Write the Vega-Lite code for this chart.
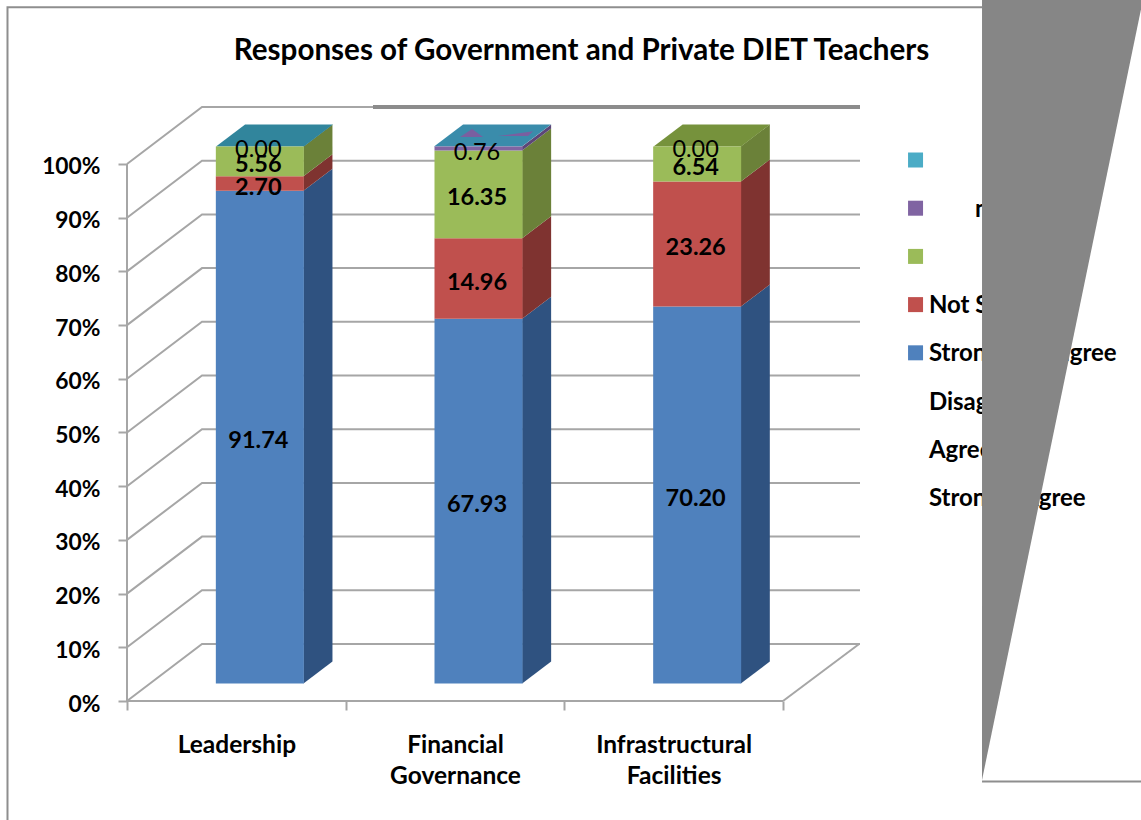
{
  "$schema": "https://vega.github.io/schema/vega-lite/v6.json",
  "width": 733,
  "height": 594,
  "autosize": "none",
  "padding": {"left": 127, "top": 107, "right": 281, "bottom": 119},
  "background": "white",
  "config": {"view": {"stroke": null}, "font": "Lato"},
  "title": {"text": "Responses of Government and Private DIET Teachers", "font": "Lato", "fontSize": 29.6, "fontWeight": "bold", "color": "black", "anchor": "middle", "dx": 88, "offset": 0, "dy": 67},
  "datasets": {
    "responses": [
      {"category": "Leadership", "slot": 0, "response": "Strongly Disagree", "rank": 1, "value": 91.74},
      {"category": "Leadership", "slot": 0, "response": "Not Sure", "rank": 2, "value": 2.70},
      {"category": "Leadership", "slot": 0, "response": "Undecided", "rank": 3, "value": 5.56},
      {"category": "Leadership", "slot": 0, "response": "None", "rank": 4, "value": 0.00},
      {"category": "Financial Governance", "slot": 1, "response": "Strongly Disagree", "rank": 1, "value": 67.93},
      {"category": "Financial Governance", "slot": 1, "response": "Not Sure", "rank": 2, "value": 14.96},
      {"category": "Financial Governance", "slot": 1, "response": "Undecided", "rank": 3, "value": 16.35},
      {"category": "Financial Governance", "slot": 1, "response": "None", "rank": 4, "value": 0.76},
      {"category": "Infrastructural Facilities", "slot": 2, "response": "Strongly Disagree", "rank": 1, "value": 70.20},
      {"category": "Infrastructural Facilities", "slot": 2, "response": "Not Sure", "rank": 2, "value": 23.26},
      {"category": "Infrastructural Facilities", "slot": 2, "response": "Undecided", "rank": 3, "value": 6.54},
      {"category": "Infrastructural Facilities", "slot": 2, "response": "None", "rank": 4, "value": 0.00}
    ],
    "key": [
      {"entry": "Other", "row": 0},
      {"entry": "None", "row": 1},
      {"entry": "Undecided", "row": 2},
      {"entry": "Not Sure", "row": 3},
      {"entry": "Strongly Disagree", "row": 4},
      {"entry": "Disagree", "row": 5},
      {"entry": "Agree", "row": 6},
      {"entry": "Strongly Agree", "row": 7}
    ],
    "wall": [
      {"level": 0, "u": 0, "v": 0}, {"level": 0, "u": 0.343, "v": 10.61}, {"level": 0, "u": 3.352, "v": 10.61},
      {"level": 10, "u": 0, "v": 10}, {"level": 10, "u": 0.343, "v": 20.61}, {"level": 10, "u": 3.352, "v": 20.61},
      {"level": 20, "u": 0, "v": 20}, {"level": 20, "u": 0.343, "v": 30.61}, {"level": 20, "u": 3.352, "v": 30.61},
      {"level": 30, "u": 0, "v": 30}, {"level": 30, "u": 0.343, "v": 40.61}, {"level": 30, "u": 3.352, "v": 40.61},
      {"level": 40, "u": 0, "v": 40}, {"level": 40, "u": 0.343, "v": 50.61}, {"level": 40, "u": 3.352, "v": 50.61},
      {"level": 50, "u": 0, "v": 50}, {"level": 50, "u": 0.343, "v": 60.61}, {"level": 50, "u": 3.352, "v": 60.61},
      {"level": 60, "u": 0, "v": 60}, {"level": 60, "u": 0.343, "v": 70.61}, {"level": 60, "u": 3.352, "v": 70.61},
      {"level": 70, "u": 0, "v": 70}, {"level": 70, "u": 0.343, "v": 80.61}, {"level": 70, "u": 3.352, "v": 80.61},
      {"level": 80, "u": 0, "v": 80}, {"level": 80, "u": 0.343, "v": 90.61}, {"level": 80, "u": 3.352, "v": 90.61},
      {"level": 90, "u": 0, "v": 90}, {"level": 90, "u": 0.343, "v": 100.61}, {"level": 90, "u": 3.352, "v": 100.61},
      {"level": 100, "u": 0, "v": 100}, {"level": 100, "u": 0.343, "v": 110.61}, {"level": 100, "u": 3.352, "v": 110.61}
    ],
    "frame": [
      {"path": "front axis", "seq": 1, "u": 0, "v": 0}, {"path": "front axis", "seq": 2, "u": 0, "v": 100},
      {"path": "floor front", "seq": 1, "u": 0, "v": 0}, {"path": "floor front", "seq": 2, "u": 3, "v": 0},
      {"path": "floor right", "seq": 1, "u": 3, "v": 0}, {"path": "floor right", "seq": 2, "u": 3.348, "v": 10.61}
    ],
    "topFaces": [
      {"face": "Leadership", "tone": "teal", "u": 0.407, "lo": 103.26, "hi": 103.26},
      {"face": "Leadership", "tone": "teal", "u": 0.54, "lo": 103.26, "hi": 107.36},
      {"face": "Leadership", "tone": "teal", "u": 0.809, "lo": 103.26, "hi": 107.36},
      {"face": "Leadership", "tone": "teal", "u": 0.942, "lo": 107.36, "hi": 107.36},
      {"face": "Financial", "tone": "sky", "u": 1.404, "lo": 103.26, "hi": 103.26},
      {"face": "Financial", "tone": "sky", "u": 1.537, "lo": 103.26, "hi": 107.36},
      {"face": "Financial", "tone": "sky", "u": 1.806, "lo": 103.26, "hi": 107.36},
      {"face": "Financial", "tone": "sky", "u": 1.939, "lo": 107.36, "hi": 107.36},
      {"face": "Infrastructural", "tone": "olive", "u": 2.408, "lo": 103.26, "hi": 103.26},
      {"face": "Infrastructural", "tone": "olive", "u": 2.541, "lo": 103.26, "hi": 107.36},
      {"face": "Infrastructural", "tone": "olive", "u": 2.808, "lo": 103.26, "hi": 107.36},
      {"face": "Infrastructural", "tone": "olive", "u": 2.941, "lo": 107.36, "hi": 107.36},
      {"face": "Sliver A", "tone": "violet", "u": 1.523, "lo": 105.03, "hi": 105.03},
      {"face": "Sliver A", "tone": "violet", "u": 1.578, "lo": 105.03, "hi": 106.52},
      {"face": "Sliver A", "tone": "violet", "u": 1.628, "lo": 105.03, "hi": 105.03},
      {"face": "Sliver B", "tone": "violet", "u": 1.697, "lo": 105.2, "hi": 105.2},
      {"face": "Sliver B", "tone": "violet", "u": 1.834, "lo": 105.2, "hi": 105.97},
      {"face": "Sliver B", "tone": "violet", "u": 1.857, "lo": 106.1, "hi": 106.1}
    ],
    "panel": [
      {"u": 3.91, "lo": -14.7, "hi": 130.6},
      {"u": 4.64, "lo": 129.4, "hi": 130.6}
    ],
    "outline": [
      {"path": "outer", "seq": 1, "u": -0.5465, "v": -22.2},
      {"path": "outer", "seq": 2, "u": -0.5465, "v": 129.2},
      {"path": "outer", "seq": 3, "u": 3.91, "v": 129.2},
      {"path": "lower", "seq": 1, "u": 3.91, "v": -15},
      {"path": "lower", "seq": 2, "u": 4.64, "v": -15}
    ]
  },
  "resolve": {"scale": {"x": "independent", "color": "independent"}},
  "layer": [
    {
      "layer": [
        {
          "data": {"name": "wall"},
          "mark": {"type": "line", "stroke": "#a6a6a6", "strokeWidth": 2, "clip": false},
          "encoding": {
            "x": {"field": "u", "type": "quantitative", "axis": null, "scale": {"domain": [0, 3.352], "nice": false, "zero": false}},
            "y": {
              "field": "v", "type": "quantitative",
              "scale": {"domain": [0, 110.61], "nice": false},
              "axis": {
                "title": null, "domain": false, "grid": false, "values": [0, 10, 20, 30, 40, 50, 60, 70, 80, 90, 100],
                "tickColor": "#a6a6a6", "tickWidth": 2, "tickSize": 9,
                "labelFont": "Lato", "labelFontWeight": "bold", "labelFontSize": 22.8, "labelColor": "black",
                "labelPadding": 18, "labelOffset": 3, "labelExpr": "datum.value + '%'"
              }
            },
            "detail": {"field": "level"}
          }
        },
        {
          "data": {"values": [{"u": 1.125, "v": 110.61}, {"u": 3.352, "v": 110.61}]},
          "mark": {"type": "line", "stroke": "#8c8c8c", "strokeWidth": 4},
          "encoding": {
            "x": {"field": "u", "type": "quantitative", "axis": null, "scale": {"domain": [0, 3.352], "nice": false, "zero": false}},
            "y": {"field": "v", "type": "quantitative", "scale": {"domain": [0, 110.61], "nice": false}}
          }
        },
        {
          "data": {"name": "frame"},
          "mark": {"type": "line", "stroke": "#a6a6a6", "strokeWidth": 2},
          "encoding": {
            "x": {"field": "u", "type": "quantitative", "axis": null, "scale": {"domain": [0, 3.352], "nice": false, "zero": false}},
            "y": {"field": "v", "type": "quantitative", "scale": {"domain": [0, 110.61], "nice": false}},
            "detail": {"field": "path"},
            "order": {"field": "seq"}
          }
        },
        {
          "data": {"name": "responses"},
          "transform": [
            {"stack": "value", "groupby": ["category"], "sort": [{"field": "rank", "order": "ascending"}], "as": ["base", "crest"]},
            {"calculate": "[0, 1]", "as": "depth"},
            {"flatten": ["depth"]},
            {"calculate": "datum.slot + 0.807 + datum.depth * 0.1326", "as": "edge"},
            {"calculate": "datum.base + 3.26 + datum.depth * 4.1", "as": "lower"},
            {"calculate": "datum.crest + 3.26 + datum.depth * 4.1", "as": "upper"}
          ],
          "mark": {"type": "area", "orient": "vertical", "clip": false},
          "encoding": {
            "x": {"field": "edge", "type": "quantitative", "axis": null, "scale": {"domain": [0, 3.352], "nice": false, "zero": false}},
            "y": {"field": "upper", "type": "quantitative", "stack": null, "scale": {"domain": [0, 110.61], "nice": false}},
            "y2": {"field": "lower"},
            "detail": {"field": "category"},
            "color": {
              "field": "response", "type": "nominal", "legend": null,
              "scale": {"domain": ["Strongly Disagree", "Not Sure", "Undecided", "None"], "range": ["#2f5280", "#7f3330", "#6b8139", "#5c4678"]}
            }
          }
        },
        {
          "data": {"name": "topFaces"},
          "mark": {"type": "area", "orient": "vertical", "clip": false},
          "encoding": {
            "x": {"field": "u", "type": "quantitative", "axis": null, "scale": {"domain": [0, 3.352], "nice": false, "zero": false}},
            "y": {"field": "hi", "type": "quantitative", "stack": null, "scale": {"domain": [0, 110.61], "nice": false}},
            "y2": {"field": "lo"},
            "detail": {"field": "face"},
            "fill": {
              "field": "tone", "type": "nominal", "legend": null,
              "scale": {"domain": ["teal", "sky", "olive", "violet"], "range": ["#31859c", "#3a8cab", "#76923c", "#7a5fa0"]}
            }
          }
        }
      ]
    },
    {
      "data": {"name": "responses"},
      "transform": [
        {"stack": "value", "groupby": ["category"], "sort": [{"field": "rank", "order": "ascending"}], "as": ["base", "crest"]},
        {"calculate": "(datum.base + datum.crest) / 2", "as": "middle"}
      ],
      "encoding": {
        "x": {
          "field": "category", "type": "nominal",
          "sort": ["Leadership", "Financial Governance", "Infrastructural Facilities"],
          "scale": {"type": "band", "range": [0, 656], "paddingInner": 0, "paddingOuter": 0},
          "axis": {
            "title": null, "domain": false, "grid": false, "labelAngle": 0,
            "tickBand": "extent", "tickColor": "#a6a6a6", "tickWidth": 2, "tickSize": 9,
            "labelFont": "Lato", "labelFontWeight": "bold", "labelFontSize": 24.5, "labelColor": "black",
            "labelPadding": 23, "labelLineHeight": 31, "labelBaseline": "top", "labelLimit": 300,
            "labelExpr": "datum.value == 'Leadership' ? 'Leadership' : datum.value == 'Financial Governance' ? ['Financial', 'Governance'] : datum.value == 'Infrastructural Facilities' ? ['Infrastructural', 'Facilities'] : ''"
          }
        }
      },
      "layer": [
        {
          "mark": {"type": "bar", "width": 88, "xOffset": 23.5, "yOffset": -17.5, "y2Offset": -17.5, "clip": false},
          "encoding": {
            "y": {"field": "crest", "type": "quantitative", "stack": null, "scale": {"domain": [0, 110.61], "nice": false}},
            "y2": {"field": "base"},
            "color": {
              "field": "response", "type": "nominal", "legend": null,
              "scale": {"domain": ["Strongly Disagree", "Not Sure", "Undecided", "None"], "range": ["#4f81bd", "#c0504d", "#9bbb59", "#8064a2"]}
            }
          }
        },
        {
          "transform": [{"filter": "datum.response != 'None'"}],
          "mark": {"type": "text", "font": "Lato", "fontWeight": "bold", "fontSize": 23.5, "color": "black", "xOffset": 22, "yOffset": -13.5},
          "encoding": {
            "y": {"field": "middle", "type": "quantitative", "stack": null, "scale": {"domain": [0, 110.61], "nice": false}},
            "text": {"field": "value", "type": "quantitative", "format": ".2f"}
          }
        },
        {
          "transform": [{"filter": "datum.response == 'None'"}],
          "mark": {"type": "text", "font": "Lato", "fontSize": 23.5, "color": "black", "xOffset": 22, "yOffset": -13.5},
          "encoding": {
            "y": {"field": "middle", "type": "quantitative", "stack": null, "scale": {"domain": [0, 110.61], "nice": false}},
            "text": {"field": "value", "type": "quantitative", "format": ".2f"}
          }
        }
      ]
    },
    {
      "layer": [
        {
          "data": {"name": "key"},
          "transform": [
            {"filter": "datum.row < 5"},
            {"calculate": "100.74 - datum.row * 8.976", "as": "keyLevel"}
          ],
          "mark": {"type": "square", "size": 225, "opacity": 1, "clip": false},
          "encoding": {
            "x": {"datum": 3.606, "type": "quantitative", "axis": null, "scale": {"domain": [0, 3.352], "nice": false, "zero": false}},
            "y": {"field": "keyLevel", "type": "quantitative", "scale": {"domain": [0, 110.61], "nice": false}},
            "color": {
              "field": "entry", "type": "nominal", "legend": null,
              "scale": {"domain": ["Other", "None", "Undecided", "Not Sure", "Strongly Disagree"], "range": ["#4bacc6", "#8064a2", "#9bbb59", "#c0504d", "#4f81bd"]}
            }
          }
        },
        {
          "data": {"name": "key"},
          "transform": [
            {"filter": "datum.row >= 3"},
            {"calculate": "100.74 - datum.row * 8.976", "as": "keyLevel"}
          ],
          "mark": {"type": "text", "align": "left", "font": "Lato", "fontWeight": "bold", "fontSize": 24, "color": "black", "yOffset": 1.5, "clip": false},
          "encoding": {
            "x": {"datum": 3.667, "type": "quantitative", "axis": null, "scale": {"domain": [0, 3.352], "nice": false, "zero": false}},
            "y": {"field": "keyLevel", "type": "quantitative", "scale": {"domain": [0, 110.61], "nice": false}},
            "text": {"field": "entry"}
          }
        },
        {
          "data": {"values": [{"entry": "n", "keyLevel": 91.76}]},
          "mark": {"type": "text", "align": "left", "font": "Lato", "fontWeight": "bold", "fontSize": 24, "color": "black", "yOffset": 1.5, "clip": false},
          "encoding": {
            "x": {"datum": 3.878, "type": "quantitative", "axis": null, "scale": {"domain": [0, 3.352], "nice": false, "zero": false}},
            "y": {"field": "keyLevel", "type": "quantitative", "scale": {"domain": [0, 110.61], "nice": false}},
            "text": {"field": "entry"}
          }
        },
        {
          "data": {"name": "panel"},
          "mark": {"type": "area", "orient": "vertical", "color": "#868686", "clip": false},
          "encoding": {
            "x": {"field": "u", "type": "quantitative", "axis": null, "scale": {"domain": [0, 3.352], "nice": false, "zero": false}},
            "y": {"field": "hi", "type": "quantitative", "stack": null, "scale": {"domain": [0, 110.61], "nice": false}},
            "y2": {"field": "lo"}
          }
        },
        {
          "data": {"name": "outline"},
          "mark": {"type": "line", "stroke": "#8e8e8e", "strokeWidth": 2, "clip": false},
          "encoding": {
            "x": {"field": "u", "type": "quantitative", "axis": null, "scale": {"domain": [0, 3.352], "nice": false, "zero": false}},
            "y": {"field": "v", "type": "quantitative", "scale": {"domain": [0, 110.61], "nice": false}},
            "detail": {"field": "path"},
            "order": {"field": "seq"}
          }
        }
      ]
    }
  ]
}
